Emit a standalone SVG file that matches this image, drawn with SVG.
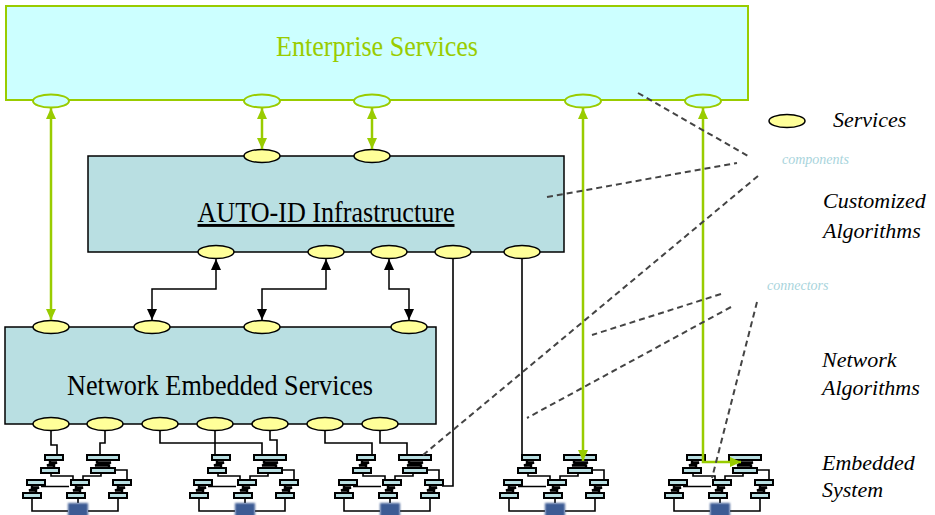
<svg xmlns="http://www.w3.org/2000/svg" xmlns:xlink="http://www.w3.org/1999/xlink" width="935" height="515" viewBox="0 0 935 515">
  <style>
    .box-ent { fill: #ccffff; stroke: #99cc00; stroke-width: 2; }
    .box { fill: #b9dfe2; stroke: #000; stroke-width: 1.5; }
    .svc { fill: #ffff99; stroke: #000; stroke-width: 1.5; }
    .svc-ent { fill: #ccffff; stroke: #99cc00; stroke-width: 2; }
    .title { font-family: "Liberation Serif", "DejaVu Serif", serif; font-size: 29px; }
    .legend { font-family: "Liberation Serif", "DejaVu Serif", serif; font-style: italic; font-size: 22px; fill: #000; }
    .tag { font-family: "Liberation Serif", "DejaVu Serif", serif; font-style: italic; font-size: 14px; fill: #a8d4dc; }
    .arrow-g { stroke: #99cc00; stroke-width: 2.5; fill: none; }
    .arrow-k { stroke: #000; stroke-width: 1.5; fill: none; }
    .wire { stroke: #000; stroke-width: 1.6; fill: none; }
    .zig { stroke: #000; stroke-width: 2.4; fill: none; }
    .dash { stroke: #444; stroke-width: 2; stroke-dasharray: 6 4; fill: none; }
    .bar { fill: #b9dfe2; stroke: #000; stroke-width: 2; }
    .dev { fill: #3e5c94; }
  </style>
  <defs>
    <marker id="headG" markerUnits="userSpaceOnUse" markerWidth="12" markerHeight="10" refX="11" refY="5" orient="auto-start-reverse">
      <path d="M0,0 L11,5 L0,10 z" fill="#99cc00"/>
    </marker>
    <marker id="headK" markerUnits="userSpaceOnUse" markerWidth="12" markerHeight="10" refX="11" refY="5" orient="auto-start-reverse">
      <path d="M0,0 L11,5 L0,10 z" fill="#000"/>
    </marker>
    <filter id="soft" x="-20%" y="-20%" width="140%" height="140%">
      <feGaussianBlur stdDeviation="0.8"/>
    </filter>
    <!-- one switch: two stacked bars joined by a zigzag -->
    <g id="sw">
      <path class="zig" d="M9 5 V7.5 H16 L6 10.5 H13 V13"/>
      <rect class="bar" x="4" y="0" width="18" height="5"/>
      <rect class="bar" x="0" y="13" width="18" height="5"/>
    </g>
    <!-- embedded network of five switches around one device -->
    <g id="cluster">
      <path class="wire" d="M28 18 V21 H50 V25 M78 18 V21 H60 V25 M92 15 H104 V25 M18 31.5 H46 M9 43 V56 H45 M95 43 V56 H65 M55 43 V48"/>
      <use xlink:href="#sw" x="18" y="0"/>
      <path class="zig" d="M74 5 V7.5 H88 L72 10.5 H86 V13"/>
      <rect class="bar" x="64" y="0" width="32" height="5"/>
      <rect class="bar" x="68" y="13" width="24" height="5"/>
      <use xlink:href="#sw" x="0" y="25"/>
      <use xlink:href="#sw" x="44" y="25"/>
      <use xlink:href="#sw" x="86" y="25"/>
      <rect class="dev" x="45" y="48" width="20" height="15" filter="url(#soft)"/>
    </g>
  </defs>

  <g id="enterprise-services">
    <rect class="box-ent" x="6" y="6" width="742" height="94"/>
    <text class="title" x="377" y="56" text-anchor="middle" fill="#99cc00" textLength="202" lengthAdjust="spacingAndGlyphs">Enterprise Services</text>
    <ellipse class="svc-ent" cx="51" cy="101" rx="18" ry="6.5"/>
    <ellipse class="svc-ent" cx="262" cy="101" rx="18" ry="6.5"/>
    <ellipse class="svc-ent" cx="372" cy="101" rx="18" ry="6.5"/>
    <ellipse class="svc-ent" cx="583" cy="101" rx="18" ry="6.5"/>
    <ellipse class="svc-ent" cx="703" cy="101" rx="18" ry="6.5"/>
  </g>

  <g id="auto-id-infrastructure">
    <rect class="box" x="88" y="156" width="476" height="96"/>
    <text class="title" x="326" y="222" text-anchor="middle" text-decoration="underline" textLength="257" lengthAdjust="spacingAndGlyphs">AUTO-ID Infrastructure</text>
    <ellipse class="svc" cx="262" cy="156" rx="18" ry="6.5"/>
    <ellipse class="svc" cx="372" cy="156" rx="18" ry="6.5"/>
    <ellipse class="svc" cx="216" cy="252" rx="18" ry="6.5"/>
    <ellipse class="svc" cx="326" cy="252" rx="18" ry="6.5"/>
    <ellipse class="svc" cx="389" cy="252" rx="18" ry="6.5"/>
    <ellipse class="svc" cx="453" cy="252" rx="18" ry="6.5"/>
    <ellipse class="svc" cx="522" cy="252" rx="18" ry="6.5"/>
  </g>

  <g id="network-embedded-services">
    <rect class="box" x="5" y="327" width="431" height="97"/>
    <text class="title" x="220" y="395" text-anchor="middle" textLength="306" lengthAdjust="spacingAndGlyphs">Network Embedded Services</text>
    <ellipse class="svc" cx="51" cy="327" rx="18" ry="6.5"/>
    <ellipse class="svc" cx="152" cy="327" rx="18" ry="6.5"/>
    <ellipse class="svc" cx="262" cy="327" rx="18" ry="6.5"/>
    <ellipse class="svc" cx="409" cy="327" rx="18" ry="6.5"/>
    <ellipse class="svc" cx="51" cy="424" rx="18" ry="6.5"/>
    <ellipse class="svc" cx="105" cy="424" rx="18" ry="6.5"/>
    <ellipse class="svc" cx="160" cy="424" rx="18" ry="6.5"/>
    <ellipse class="svc" cx="215" cy="424" rx="18" ry="6.5"/>
    <ellipse class="svc" cx="270" cy="424" rx="18" ry="6.5"/>
    <ellipse class="svc" cx="325" cy="424" rx="18" ry="6.5"/>
    <ellipse class="svc" cx="380" cy="424" rx="18" ry="6.5"/>
  </g>

  <g id="embedded-1"><use xlink:href="#cluster" x="23" y="455"/></g>
  <g id="embedded-2"><use xlink:href="#cluster" x="190" y="455"/></g>
  <g id="embedded-3"><use xlink:href="#cluster" x="335" y="455"/></g>
  <g id="embedded-4"><use xlink:href="#cluster" x="500" y="455"/></g>
  <g id="embedded-5"><use xlink:href="#cluster" x="665" y="455"/></g>

  <g id="legend">
    <ellipse class="svc" cx="787" cy="121" rx="18" ry="6.5"/>
    <text class="legend" x="833" y="127">Services</text>
    <text class="tag" x="782" y="164">components</text>
    <text class="legend" x="823" y="208">Customized</text>
    <text class="legend" x="823" y="238">Algorithms</text>
    <text class="tag" x="767" y="290">connectors</text>
    <text class="legend" x="822" y="367">Network</text>
    <text class="legend" x="822" y="395">Algorithms</text>
    <text class="legend" x="822" y="470">Embedded</text>
    <text class="legend" x="822" y="497">System</text>
  </g>

  <g id="connectors">
    <!-- enterprise links -->
    <path class="arrow-g" d="M51 108 V320" marker-start="url(#headG)" marker-end="url(#headG)"/>
    <path class="arrow-g" d="M262 108 V149" marker-start="url(#headG)" marker-end="url(#headG)"/>
    <path class="arrow-g" d="M372 108 V149" marker-start="url(#headG)" marker-end="url(#headG)"/>
    <path class="arrow-g" d="M583 108 V461" marker-start="url(#headG)" marker-end="url(#headG)"/>
    <path class="arrow-g" d="M703 108 V462 H741" marker-start="url(#headG)" marker-end="url(#headG)"/>
    <!-- infrastructure to network services -->
    <path class="arrow-k" d="M216 259 V289 H152 V320" marker-start="url(#headK)" marker-end="url(#headK)"/>
    <path class="arrow-k" d="M326 259 V289 H262 V320" marker-start="url(#headK)" marker-end="url(#headK)"/>
    <path class="arrow-k" d="M389 259 V289 H409 V320" marker-start="url(#headK)" marker-end="url(#headK)"/>
    <path class="wire" d="M453 259 V486 H442"/>
    <path class="wire" d="M522 259 V455"/>
    <!-- network services to embedded systems -->
    <path class="wire" d="M51 431 V445 H57 V455"/>
    <path class="wire" d="M105 431 V443 H100 V455"/>
    <path class="wire" d="M160 431 V443 H262 V455"/>
    <path class="wire" d="M215 431 V455"/>
    <path class="wire" d="M270 431 V440 H277 V455"/>
    <path class="wire" d="M325 431 V443 H372 V455"/>
    <path class="wire" d="M380 431 V443 H407 V455"/>
    <!-- annotation leaders -->
    <path class="dash" d="M638 93 L748 156"/>
    <path class="dash" d="M547 197 L737 163"/>
    <path class="dash" d="M758 176 L423 455"/>
    <path class="dash" d="M721 294 L592 335"/>
    <path class="dash" d="M731 307 L527 418"/>
    <path class="dash" d="M757 302 L712 478"/>
  </g>
</svg>
